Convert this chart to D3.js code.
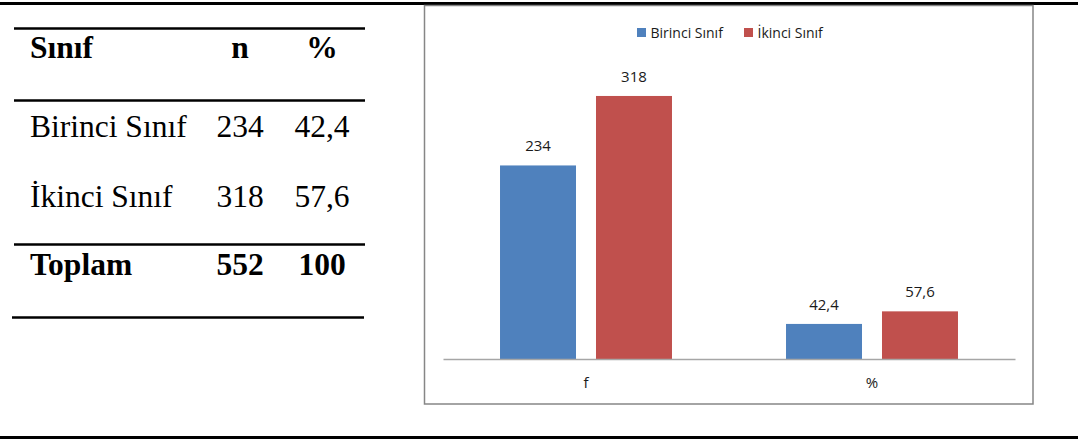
<!DOCTYPE html>
<html>
  <head>
    <meta charset="UTF-8">
    <title>Sınıf dağılımı</title>
    <script src="https://cdn.jsdelivr.net/npm/d3@7"></script>
    <style>
      body, html { margin:0; padding:0; background:#fff; }
      .tbl text { font-family: "Liberation Serif", "Times New Roman", serif; font-size: 31.5px; fill:#000; }
      .tbl .bold { font-weight: bold; }
      .chart text { font-family: "Open Sans", sans-serif; font-size: 15px; fill:#1a1a1a; }
    </style>
  </head>
  <body>
<svg id="page" width="1078" height="441"></svg>
<script>
// table data
var tableHeader = ["Sınıf", "n", "%"];
var classes = ["Birinci Sınıf", "İkinci Sınıf"];
var counts = ["234", "318"];
var percents = ["42,4", "57,6"];
var totalRow = ["Toplam", "552", "100"];

// chart data
var categories = ["f", "%"];
var seriesNames = ["Birinci Sınıf", "İkinci Sınıf"];
var fValues = [234, 318];
var pctValues = [42.4, 57.6];
var colors = ["#4F81BD", "#C0504D"];

var svg = d3.select("#page");
var locale = d3.formatLocale({decimal: ",", thousands: ".", grouping: [3], currency: ["", ""]});
var fmt = function(v) { return Number.isInteger(v) ? String(v) : locale.format(".1f")(v); };

// page rules
svg.append("line").attr("x1", 0).attr("x2", 1078).attr("y1", 3.5).attr("y2", 3.5)
   .attr("stroke", "#000").attr("stroke-width", 3);
svg.append("line").attr("x1", 0).attr("x2", 1078).attr("y1", 437.5).attr("y2", 437.5)
   .attr("stroke", "#000").attr("stroke-width", 3);

// ---- table ----
var tbl = svg.append("g").attr("class", "tbl");
[28.5, 100.5, 244.5, 317.5].forEach(function(y, i) {
  tbl.append("line").attr("x1", i == 3 ? 12 : 14).attr("x2", i == 3 ? 364 : 365)
     .attr("y1", y).attr("y2", y).attr("stroke", "#000").attr("stroke-width", 2.5);
});
var colX = [30, 240, 322];
var rows = [
  { cells: tableHeader, y: 58, bold: true },
  { cells: [classes[0], counts[0], percents[0]], y: 137, bold: false },
  { cells: [classes[1], counts[1], percents[1]], y: 207, bold: false },
  { cells: totalRow, y: 275, bold: true }
];
rows.forEach(function(r) {
  r.cells.forEach(function(c, i) {
    tbl.append("text")
      .attr("class", r.bold ? "bold" : null)
      .attr("x", colX[i]).attr("y", r.y)
      .attr("text-anchor", i == 0 ? "start" : "middle")
      .text(c);
  });
});

// ---- chart ----
var chart = svg.append("g").attr("class", "chart");
chart.append("rect").attr("x", 424.5).attr("y", 5.5).attr("width", 608.5).attr("height", 398.5)
     .attr("fill", "#fff").attr("stroke", "#868686").attr("stroke-width", 1.5);

// one group per category, one bar per series
var data = [
  { cat: categories[0], values: fValues },
  { cat: categories[1], values: pctValues }
];

var x0 = d3.scaleBand().domain(categories).range([443, 1015]);
var x1 = d3.scaleBand().domain(seriesNames).range([0, x0.bandwidth()])
           .paddingInner(0.2083).paddingOuter(0.594);
var y = d3.scaleLinear().domain([0, 350]).range([359, 69.5]);

var groups = chart.selectAll(".grp").data(data).enter().append("g")
  .attr("class", "grp")
  .attr("transform", function(d) { return "translate(" + x0(d.cat) + ",0)"; });

groups.selectAll("rect").data(function(d) { return d.values; }).enter().append("rect")
  .attr("x", function(d, i) { return x1(seriesNames[i]); })
  .attr("y", function(d) { return y(d); })
  .attr("width", x1.bandwidth())
  .attr("height", function(d) { return y(0) - y(d); })
  .attr("fill", function(d, i) { return colors[i]; });

groups.selectAll("text.lbl").data(function(d) { return d.values; }).enter().append("text")
  .attr("class", "lbl")
  .attr("x", function(d, i) { return x1(seriesNames[i]) + x1.bandwidth() / 2; })
  .attr("y", function(d) { return y(d) - 14; })
  .attr("text-anchor", "middle")
  .text(function(d) { return fmt(d); });

var xAxis = chart.append("g").attr("transform", "translate(0," + y(0) + ")")
  .call(d3.axisBottom(x0).tickSize(0).tickSizeOuter(0).tickPadding(18));
xAxis.select(".domain").attr("stroke", "#A6A6A6").attr("stroke-width", 1.5);
xAxis.selectAll("text").style("font-family", "Open Sans, sans-serif").style("font-size", "15px").attr("fill", "#1a1a1a");

// legend
var legX = [637, 744];
var leg = chart.selectAll(".leg").data(seriesNames).enter().append("g")
  .attr("class", "leg")
  .attr("transform", function(d, i) { return "translate(" + legX[i] + ",28)"; });
leg.append("rect").attr("width", 9).attr("height", 9).attr("fill", function(d, i) { return colors[i]; });
leg.append("text").attr("x", 13.5).attr("y", 10).text(function(d) { return d; })
  .style("font-size", "14px");
</script>
  </body>
</html>
